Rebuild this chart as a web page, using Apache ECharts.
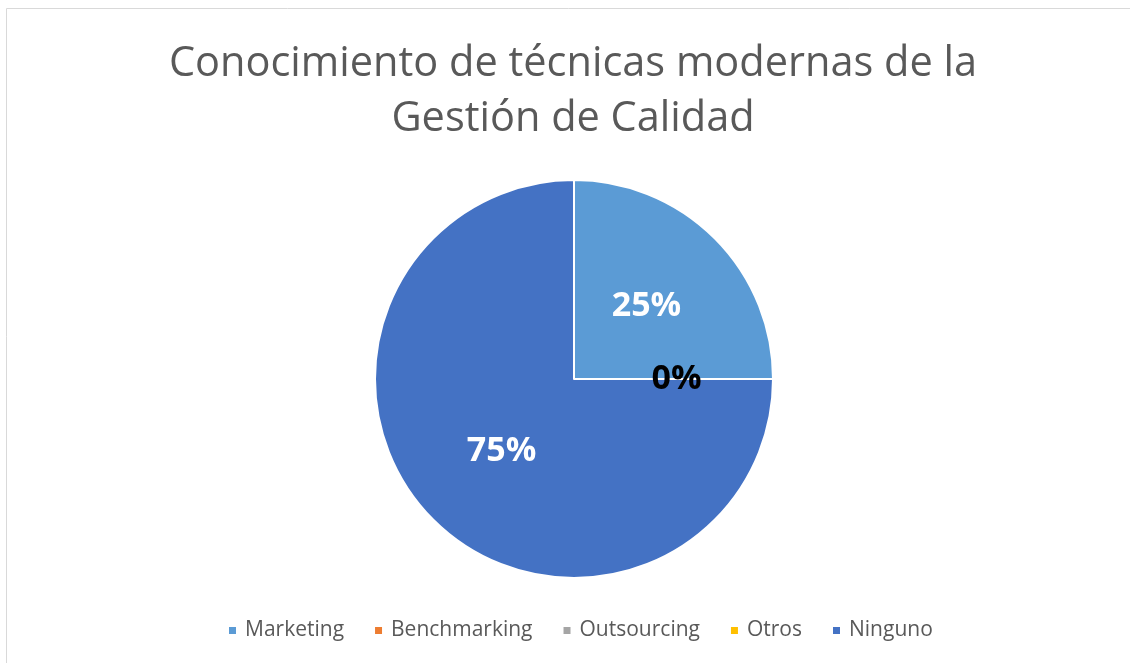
<!DOCTYPE html>
<html><head><meta charset="utf-8">
<script src="https://cdn.jsdelivr.net/npm/echarts@6/dist/echarts.min.js"></script>
<style>html,body{margin:0;padding:0;background:#fff}#c{width:1130px;height:663px}</style>
</head><body><div id="c"></div>
<script>
const categories = ['Marketing', 'Benchmarking', 'Outsourcing', 'Otros', 'Ninguno'];
const values = [25, 0, 0, 0, 75];
const colors = ['#5B9BD5', '#ED7D31', '#A5A5A5', '#FFC000', '#4472C4'];
const titleText = 'Conocimiento de técnicas modernas de la\nGestión de Calidad';

const chart = echarts.init(document.getElementById('c'));
chart.setOption({
  animation: false,
  graphic: [{
    type: 'rect', shape: {x: 6.5, y: 8.5, width: 1200, height: 700},
    style: {fill: 'none', stroke: '#D9D9D9', lineWidth: 1}, silent: true
  }],
  title: {
    text: titleText, left: 568, textAlign: 'center', top: 32,
    textStyle: {fontFamily: 'Open Sans', fontWeight: 'normal', fontSize: 41.5, color: '#595959', lineHeight: 55}
  },
  legend: {
    bottom: 17, left: 222, itemWidth: 9, itemHeight: 9, itemGap: 29,
    icon: 'rect',
    textStyle: {fontFamily: 'Open Sans', fontSize: 21, color: '#595959', padding: [0, 0, 0, 3]},
    data: categories
  },
  series: [{
    type: 'pie', center: [574, 379], radius: [0, 199], startAngle: 90, clockwise: true,
    avoidLabelOverlap: false,
    itemStyle: {borderColor: '#fff', borderWidth: 2},
    label: {show: true, position: 'inside', formatter: '{d}%', fontFamily: 'Open Sans', fontWeight: 'bold', fontSize: 34, color: '#fff', padding: [6, 0, 0, 0]},
    labelLine: {show: false},
    data: categories.map((n, i) => ({
      name: n, value: values[i], itemStyle: {color: colors[i]},
      label: values[i] === 0 ? {color: '#000', fontWeight: 'bold', show: i === 1} : {}
    }))
  }]
});
</script></body></html>
